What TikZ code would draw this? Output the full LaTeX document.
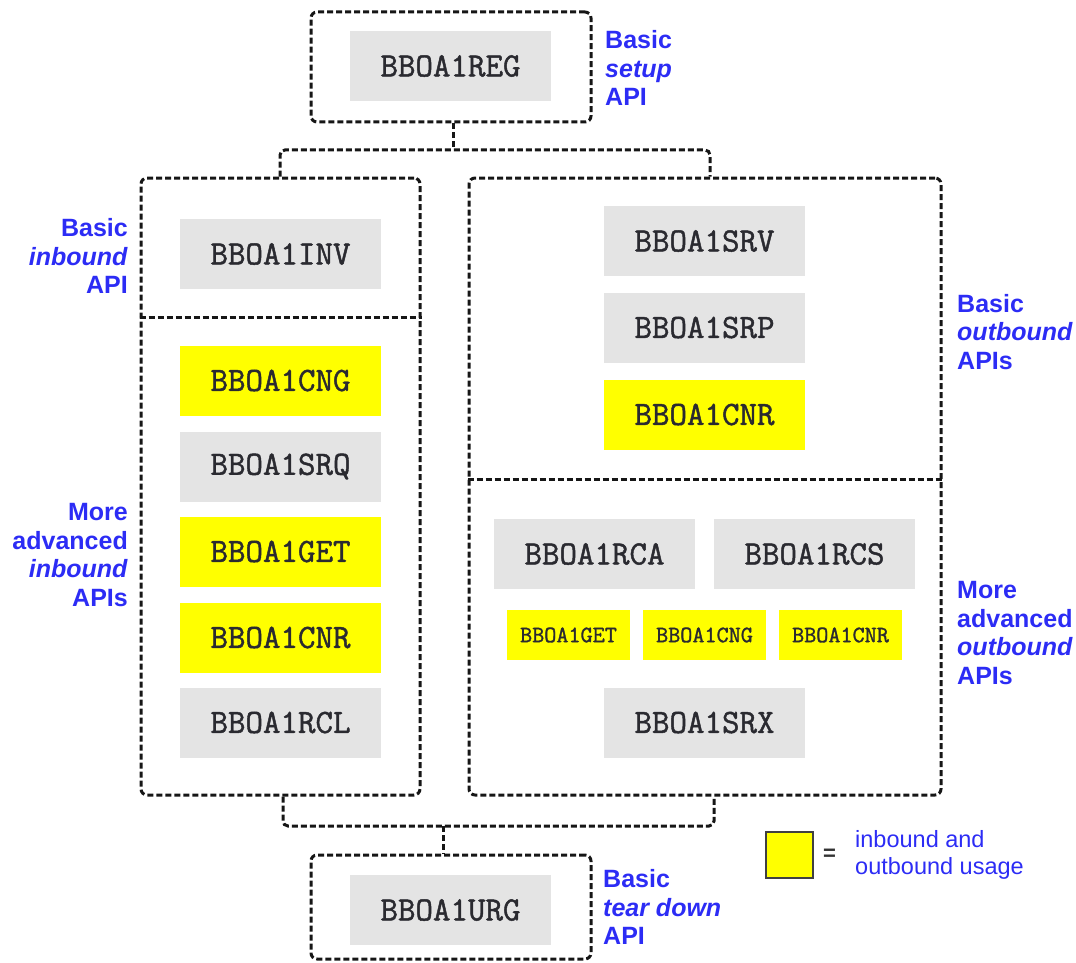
\documentclass[tikz,border=0pt]{standalone}
\usepackage{fontspec}
\setmainfont{Liberation Sans}
\newfontfamily\apifont[FakeBold=1.3]{Latin Modern Mono}
\usetikzlibrary{positioning}

\definecolor{apigray}{HTML}{E4E4E4}
\definecolor{apiyellow}{HTML}{FFFF00}
\definecolor{noteblue}{HTML}{2C2CF5}
\definecolor{frameink}{HTML}{161616}
\definecolor{apiink}{HTML}{2A2A30}

\tikzset{
  api/.style={fill=apigray, minimum width=201pt, minimum height=70pt, inner sep=0pt,
    font=\apifont\fontsize{34}{34}\selectfont, text=apiink},
  apiy/.style={api, fill=apiyellow},
  apismall/.style={fill=apiyellow, minimum width=123pt, minimum height=50pt, inner sep=0pt,
    font=\apifont\fontsize{23.5}{24}\selectfont, text=apiink},
  group/.style={draw=frameink, line width=3pt, dash pattern=on 6pt off 3pt,
    rounded corners=6pt, inner sep=0pt},
  divider/.style={draw=frameink, line width=3pt, dash pattern=on 6pt off 3pt},
  conn/.style={draw=frameink, line width=3pt, dash pattern=on 6pt off 3pt, rounded corners=5pt},
  note/.style={text=noteblue, font=\bfseries\fontsize{25}{28.6}\selectfont, inner sep=0pt},
}

\begin{document}
\begin{tikzpicture}[x=1pt, y=-1pt]
\useasboundingbox (0,0) rectangle (1076,963);

% outer groups
\node[group, minimum width=280pt, minimum height=110pt] (setup) at (451,67) {};
\node[group, minimum width=279pt, minimum height=617pt] (inbound) at (280.5,486.5) {};
\node[group, minimum width=472pt, minimum height=617pt] (outbound) at (705,486.5) {};
\node[group, minimum width=280pt, minimum height=104pt] (teardown) at (451,907) {};

% dividers between basic and advanced parts
\coordinate (indiv) at (0,317);
\coordinate (outdiv) at (0,479);
\draw[divider] (inbound.west |- indiv) -- (inbound.east |- indiv);
\draw[divider] (outbound.west |- outdiv) -- (outbound.east |- outdiv);

% setup
\node[api] (reg) at (450.5,66) {BBOA1REG};
\node[note, anchor=west, align=left] (setupnote) at (605,68) {Basic\\\textit{setup}\\API};

% inbound
\node[api] (inv) at (280.5,254) {BBOA1INV};
\node[apiy] (cngin) at (280.5,380.5) {BBOA1CNG};
\node[api] (srq) at (280.5,466.5) {BBOA1SRQ};
\node[apiy] (getin) at (280.5,551.5) {BBOA1GET};
\node[apiy] (cnrin) at (280.5,637.5) {BBOA1CNR};
\node[api] (rcl) at (280.5,722.5) {BBOA1RCL};
\node[note, anchor=east, align=right] (innote) at (128,256) {Basic\\\textit{inbound}\\API};
\node[note, anchor=east, align=right] (advinnote) at (128,555) {More\\advanced\\\textit{inbound}\\APIs};

% outbound
\node[api] (srv) at (704.5,241) {BBOA1SRV};
\node[api] (srp) at (704.5,327.5) {BBOA1SRP};
\node[apiy] (cnrout) at (704.5,414.5) {BBOA1CNR};
\node[api] (rca) at (594.5,554) {BBOA1RCA};
\node[api] (rcs) at (814.5,554) {BBOA1RCS};
\node[apismall] (getout) at (568.5,635) {BBOA1GET};
\node[apismall] (cngout) at (704.5,635) {BBOA1CNG};
\node[apismall] (cnrsm) at (840.5,635) {BBOA1CNR};
\node[api] (srx) at (704.5,722.5) {BBOA1SRX};
\node[note, anchor=west, align=left] (outnote) at (957,332) {Basic\\\textit{outbound}\\APIs};
\node[note, anchor=west, align=left] (advoutnote) at (957,633) {More\\advanced\\\textit{outbound}\\APIs};

% tear down
\node[api] (urg) at (450.5,910) {BBOA1URG};
\node[note, anchor=west, align=left] (tdnote) at (603,907) {Basic\\\textit{tear down}\\API};

% connectors
\coordinate (topbus) at (453,150);
\coordinate (inleg) at (280,0);
\coordinate (outleg) at (710,0);
\draw[conn] (setup.south -| topbus) -- (topbus);
\draw[conn] (inbound.north -| inleg) |- (topbus) -| (outbound.north -| outleg);

\coordinate (botbus) at (443,826);
\coordinate (inlegb) at (283,0);
\coordinate (outlegb) at (714,0);
\draw[conn] (inbound.south -| inlegb) |- (botbus) -| (outbound.south -| outlegb);
\draw[conn] (botbus) -- (teardown.north -| botbus);

% legend
\node[draw=black!75, line width=1.6pt, fill=apiyellow, minimum width=47pt, minimum height=46pt, inner sep=0pt] (key) at (789.5,855) {};
\node[text=black!80, font=\bfseries\fontsize{22}{22}\selectfont, inner sep=0pt, right=9pt of key] (eq) {=};
\node[text=noteblue, font=\fontsize{23.5}{27}\selectfont, anchor=west, align=left, inner sep=0pt] (keynote) at (855,855) {inbound and\\outbound usage};
\end{tikzpicture}
\end{document}
